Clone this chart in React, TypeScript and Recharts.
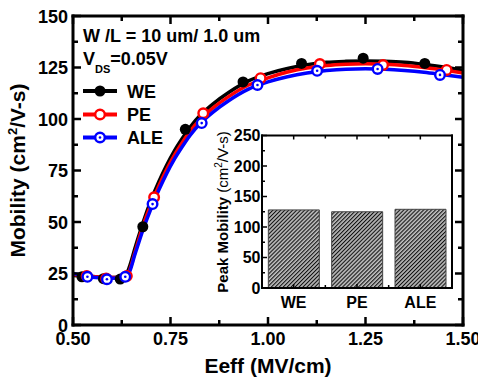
import { ComposedChart, Line, Scatter, XAxis, YAxis, Legend, BarChart, Bar } from 'recharts';

const FONT = '"Liberation Sans", Arial, Helvetica, sans-serif';

// fitted curves (Eeff in MV/cm, mobility in cm2/V-s)
const curveE = [0.5, 0.55, 0.6, 0.63, 0.64, 0.66, 0.68, 0.7, 0.72, 0.74, 0.76, 0.78, 0.8, 0.83, 0.86, 0.9, 0.95, 1.0, 1.05, 1.1, 1.15, 1.2, 1.25, 1.3, 1.35, 1.4, 1.45, 1.5];
const weCurve = [24, 23.5, 23, 23.3, 26, 38, 50, 60.5, 69.5, 77.5, 84.5, 90.5, 96, 102.5, 107.5, 113, 118.5, 122, 124.5, 126.3, 127.5, 128, 128.2, 128, 127.5, 126.5, 125.2, 123.5];
const peCurve = [24.5, 23.5, 23, 23.3, 24.5, 36, 48.5, 58.5, 67.5, 75.5, 82.5, 88.5, 94, 100.5, 105.5, 111, 116.5, 120, 122.8, 124.8, 126, 126.6, 126.8, 126.6, 126, 125, 123.8, 122.3];
const aleCurve = [25, 23.2, 22.7, 23.2, 24, 35, 46.5, 56.5, 65.5, 73.5, 80.5, 86.5, 92, 98.5, 103.5, 109, 114.5, 118, 120.5, 122.3, 123.5, 124.2, 124.4, 124.2, 123.6, 122.7, 121.5, 120.3];

// measured points
const weMarkE = [0.523, 0.578, 0.621, 0.679, 0.788, 0.936, 1.086, 1.244, 1.402];
const weMarkV = [23.4, 22.5, 22.3, 47.7, 95, 118, 127, 129.5, 127];
const peMarkE = [0.535, 0.585, 0.638, 0.708, 0.834, 0.981, 1.133, 1.295, 1.458];
const peMarkV = [23.8, 22.6, 23.8, 62, 102.8, 119.8, 126.7, 126.2, 123.8];
const aleMarkE = [0.537, 0.587, 0.634, 0.704, 0.83, 0.973, 1.126, 1.281, 1.441];
const aleMarkV = [23.4, 22.2, 23.4, 58.7, 98, 116.5, 123.4, 124.3, 121.4];

// inset
const peakNames = ['WE', 'PE', 'ALE'];
const peakValues = [128, 125, 129];

const xMajor = [0.5, 0.75, 1.0, 1.25, 1.5];
const xMinor = [0.625, 0.875, 1.125, 1.375];
const yMajor = [0, 25, 50, 75, 100, 125, 150];
const yMinor = [12.5, 37.5, 62.5, 87.5, 112.5, 137.5];
const insetMajor = [0, 50, 100, 150, 200, 250];
const insetMinor = [25, 75, 125, 175, 225];

const zip = (e: number[], v: number[]) => e.map((x, i) => ({ e: x, v: v[i] }));

const series = [
  { name: 'WE', color: '#000000', kind: 'filled', curve: zip(curveE, weCurve), marks: zip(weMarkE, weMarkV) },
  { name: 'PE', color: '#ff0000', kind: 'open', curve: zip(curveE, peCurve), marks: zip(peMarkE, peMarkV) },
  { name: 'ALE', color: '#0000ff', kind: 'dotted', curve: zip(curveE, aleCurve), marks: zip(aleMarkE, aleMarkV) },
];

const peakData = peakNames.map((n, i) => ({ name: n, value: peakValues[i] }));

const Marker = ({ cx, cy, kind, color }: any) => {
  if (kind === 'filled') return <circle cx={cx} cy={cy} r={5.5} fill={color} />;
  return (
    <g>
      <circle cx={cx} cy={cy} r={4.8} fill="#fff" stroke={color} strokeWidth={2.4} />
      {kind === 'dotted' && <circle cx={cx} cy={cy} r={1.3} fill={color} />}
    </g>
  );
};

const labelStyle = { fontFamily: FONT, fontWeight: 700, fill: '#000' };

// inward ticks, labels only on bottom / left
const xTick = (side: string) => (props: any) => {
  const { x, y, payload } = props;
  const major = xMajor.includes(payload.value);
  const len = major ? 8 : 5;
  const dir = side === 'bottom' ? -1 : 1;
  return (
    <g>
      <line x1={x} y1={y} x2={x} y2={y + dir * len} stroke="#000" strokeWidth={2.5} />
      {side === 'bottom' && major && (
        <text x={x} y={y + 20} textAnchor="middle" fontSize={18} {...labelStyle}>
          {payload.value.toFixed(2)}
        </text>
      )}
    </g>
  );
};

const yTick = (side: string) => (props: any) => {
  const { x, y, payload } = props;
  const major = yMajor.includes(payload.value);
  const len = major ? 8 : 5;
  const dir = side === 'left' ? 1 : -1;
  return (
    <g>
      <line x1={x} y1={y} x2={x + dir * len} y2={y} stroke="#000" strokeWidth={2.5} />
      {side === 'left' && major && (
        <text x={x - 5} y={y + 6.5} textAnchor="end" fontSize={18} {...labelStyle}>
          {payload.value}
        </text>
      )}
    </g>
  );
};

const BAND = 190 / 3;

const insetXTick = (side: string) => (props: any) => {
  const { x, y, payload } = props;
  const dir = side === 'bottom' ? -1 : 1;
  return (
    <g>
      <line x1={x} y1={y} x2={x} y2={y + dir * 4} stroke="#000" strokeWidth={1.5} />
      <line x1={x + BAND / 2} y1={y} x2={x + BAND / 2} y2={y + dir * 3} stroke="#000" strokeWidth={1.5} />
      {side === 'bottom' && (
        <text x={x} y={y + 20} textAnchor="middle" fontSize={16} {...labelStyle}>
          {payload.value}
        </text>
      )}
    </g>
  );
};

const insetYTick = (side: string) => (props: any) => {
  const { x, y, payload } = props;
  const major = insetMajor.includes(payload.value);
  const len = major ? 5 : 3;
  const dir = side === 'left' ? 1 : -1;
  return (
    <g>
      <line x1={x} y1={y} x2={x + dir * len} y2={y} stroke="#000" strokeWidth={1.5} />
      {side === 'left' && major && (
        <text x={x - 1.5} y={y + 5.8} textAnchor="end" fontSize={16} {...labelStyle}>
          {payload.value}
        </text>
      )}
    </g>
  );
};

const LegendBox = () => (
  <svg width={200} height={160} style={{ position: 'absolute', left: 0, top: 0 }}>
    {series.map((s, i) => {
      const cy = [91, 114.5, 137.5][i];
      return (
        <g key={s.name}>
          <line x1={83} y1={cy} x2={117} y2={cy} stroke={s.color} strokeWidth={4} />
          <Marker cx={100} cy={cy} kind={s.kind} color={s.color} />
          <text x={127} y={cy + 6.5} fontSize={18} {...labelStyle}>{s.name}</text>
        </g>
      );
    })}
  </svg>
);

const frame = { stroke: '#000', strokeWidth: 3, strokeLinecap: 'square' as const };
const thinFrame = { stroke: '#000', strokeWidth: 2, strokeLinecap: 'square' as const };

const App = () => {
  return (
    <div style={{ position: 'absolute', left: 0, top: 0, width: 478, height: 383, background: '#fff' }}>
      <ComposedChart width={478} height={383} margin={{ top: 15, right: 14, bottom: 28, left: 0 }}>
        <XAxis
          dataKey="e"
          type="number"
          domain={[0.5, 1.5]}
          allowDataOverflow
          ticks={[...xMajor, ...xMinor]}
          interval={0}
          height={30}
          tickSize={0}
          tickMargin={0}
          tickLine={false}
          axisLine={frame}
          tick={xTick('bottom')}
        />
        <XAxis
          xAxisId="top"
          orientation="top"
          dataKey="e"
          type="number"
          domain={[0.5, 1.5]}
          allowDataOverflow
          ticks={[...xMajor, ...xMinor]}
          interval={0}
          height={1}
          tickSize={0}
          tickMargin={0}
          tickLine={false}
          axisLine={frame}
          tick={xTick('top')}
        />
        <YAxis
          dataKey="v"
          type="number"
          domain={[0, 150]}
          allowDataOverflow
          ticks={[...yMajor, ...yMinor]}
          interval={0}
          width={73}
          tickSize={0}
          tickMargin={0}
          tickLine={false}
          axisLine={frame}
          tick={yTick('left')}
        />
        <YAxis
          yAxisId="right"
          orientation="right"
          type="number"
          domain={[0, 150]}
          allowDataOverflow
          ticks={[...yMajor, ...yMinor]}
          interval={0}
          width={1}
          tickSize={0}
          tickMargin={0}
          tickLine={false}
          axisLine={frame}
          tick={yTick('right')}
        />
        {series.map((s) => [
          <Line
            key={s.name + '-line'}
            data={s.curve}
            dataKey="v"
            type="monotone"
            stroke={s.color}
            strokeWidth={3.5}
            dot={false}
            activeDot={false}
            isAnimationActive={false}
            legendType="none"
          />,
          <Scatter
            key={s.name + '-pts'}
            name={s.name}
            data={s.marks}
            dataKey="v"
            isAnimationActive={false}
            shape={(p: any) => <Marker cx={p.cx} cy={p.cy} kind={s.kind} color={s.color} />}
          />,
        ])}
        <Legend
          layout="vertical"
          align="center"
          verticalAlign="middle"
          wrapperStyle={{ left: 0, top: 0, width: 200, height: 160 }}
          content={() => <LegendBox />}
        />
      </ComposedChart>

      <div style={{ position: 'absolute', left: 200, top: 120 }}>
        <BarChart
          width={260}
          height={200}
          data={peakData}
          margin={{ top: 14.5, right: 7, bottom: 0, left: 0 }}
          barCategoryGap="10%"
        >
          <defs>
            <pattern id="hatch" width={2.8} height={2.8} patternUnits="userSpaceOnUse" patternTransform="rotate(45)">
              <rect width={2.8} height={2.8} fill="#bdbdbd" />
              <line x1={0} y1={0} x2={0} y2={2.8} stroke="#111" strokeWidth={2.2} />
            </pattern>
          </defs>
          <XAxis
            dataKey="name"
            height={32}
            tickSize={0}
            tickMargin={0}
            tickLine={false}
            axisLine={thinFrame}
            interval={0}
            tick={insetXTick('bottom')}
          />
          <XAxis
            xAxisId="top"
            orientation="top"
            dataKey="name"
            height={1}
            tickSize={0}
            tickMargin={0}
            tickLine={false}
            axisLine={thinFrame}
            interval={0}
            tick={insetXTick('top')}
          />
          <YAxis
            type="number"
            domain={[0, 250]}
            ticks={[...insetMajor, ...insetMinor]}
            interval={0}
            width={62}
            tickSize={0}
            tickMargin={0}
            tickLine={false}
            axisLine={thinFrame}
            tick={insetYTick('left')}
          />
          <YAxis
            yAxisId="right"
            orientation="right"
            type="number"
            domain={[0, 250]}
            ticks={[...insetMajor, ...insetMinor]}
            interval={0}
            width={1}
            tickSize={0}
            tickMargin={0}
            tickLine={false}
            axisLine={thinFrame}
            tick={insetYTick('right')}
          />
          <Bar dataKey="value" fill="url(#hatch)" stroke="#444" strokeWidth={1} isAnimationActive={false} />
        </BarChart>
      </div>

      <svg width={478} height={383} style={{ position: 'absolute', left: 0, top: 0, pointerEvents: 'none' }}>
        <text x={83} y={41.7} fontSize={18} {...labelStyle}>W /L = 10 um/ 1.0 um</text>
        <text x={83} y={65} fontSize={18} {...labelStyle}>
          V<tspan fontSize={11} dy={7.5}>DS</tspan>
          <tspan dy={-7.5}>=0.05V</tspan>
        </text>
        <text x={268} y={373} textAnchor="middle" fontSize={21} {...labelStyle}>Eeff (MV/cm)</text>
        <text x={25} y={170.5} textAnchor="middle" fontSize={21} transform="rotate(-90 25 170.5)" {...labelStyle}>
          Mobility (cm<tspan fontSize={13} dy={-8}>2</tspan>
          <tspan dy={8}>/V-s)</tspan>
        </text>
        <text x={228} y={212} textAnchor="middle" fontSize={15} transform="rotate(-90 228 212)" {...labelStyle}>
          Peak Mobility{'  '}
          <tspan fontWeight={400}>
            (cm<tspan fontSize={10} dy={-6}>2</tspan>
            <tspan dy={6}>/V-s)</tspan>
          </tspan>
        </text>
      </svg>
    </div>
  );
};

export default App;
